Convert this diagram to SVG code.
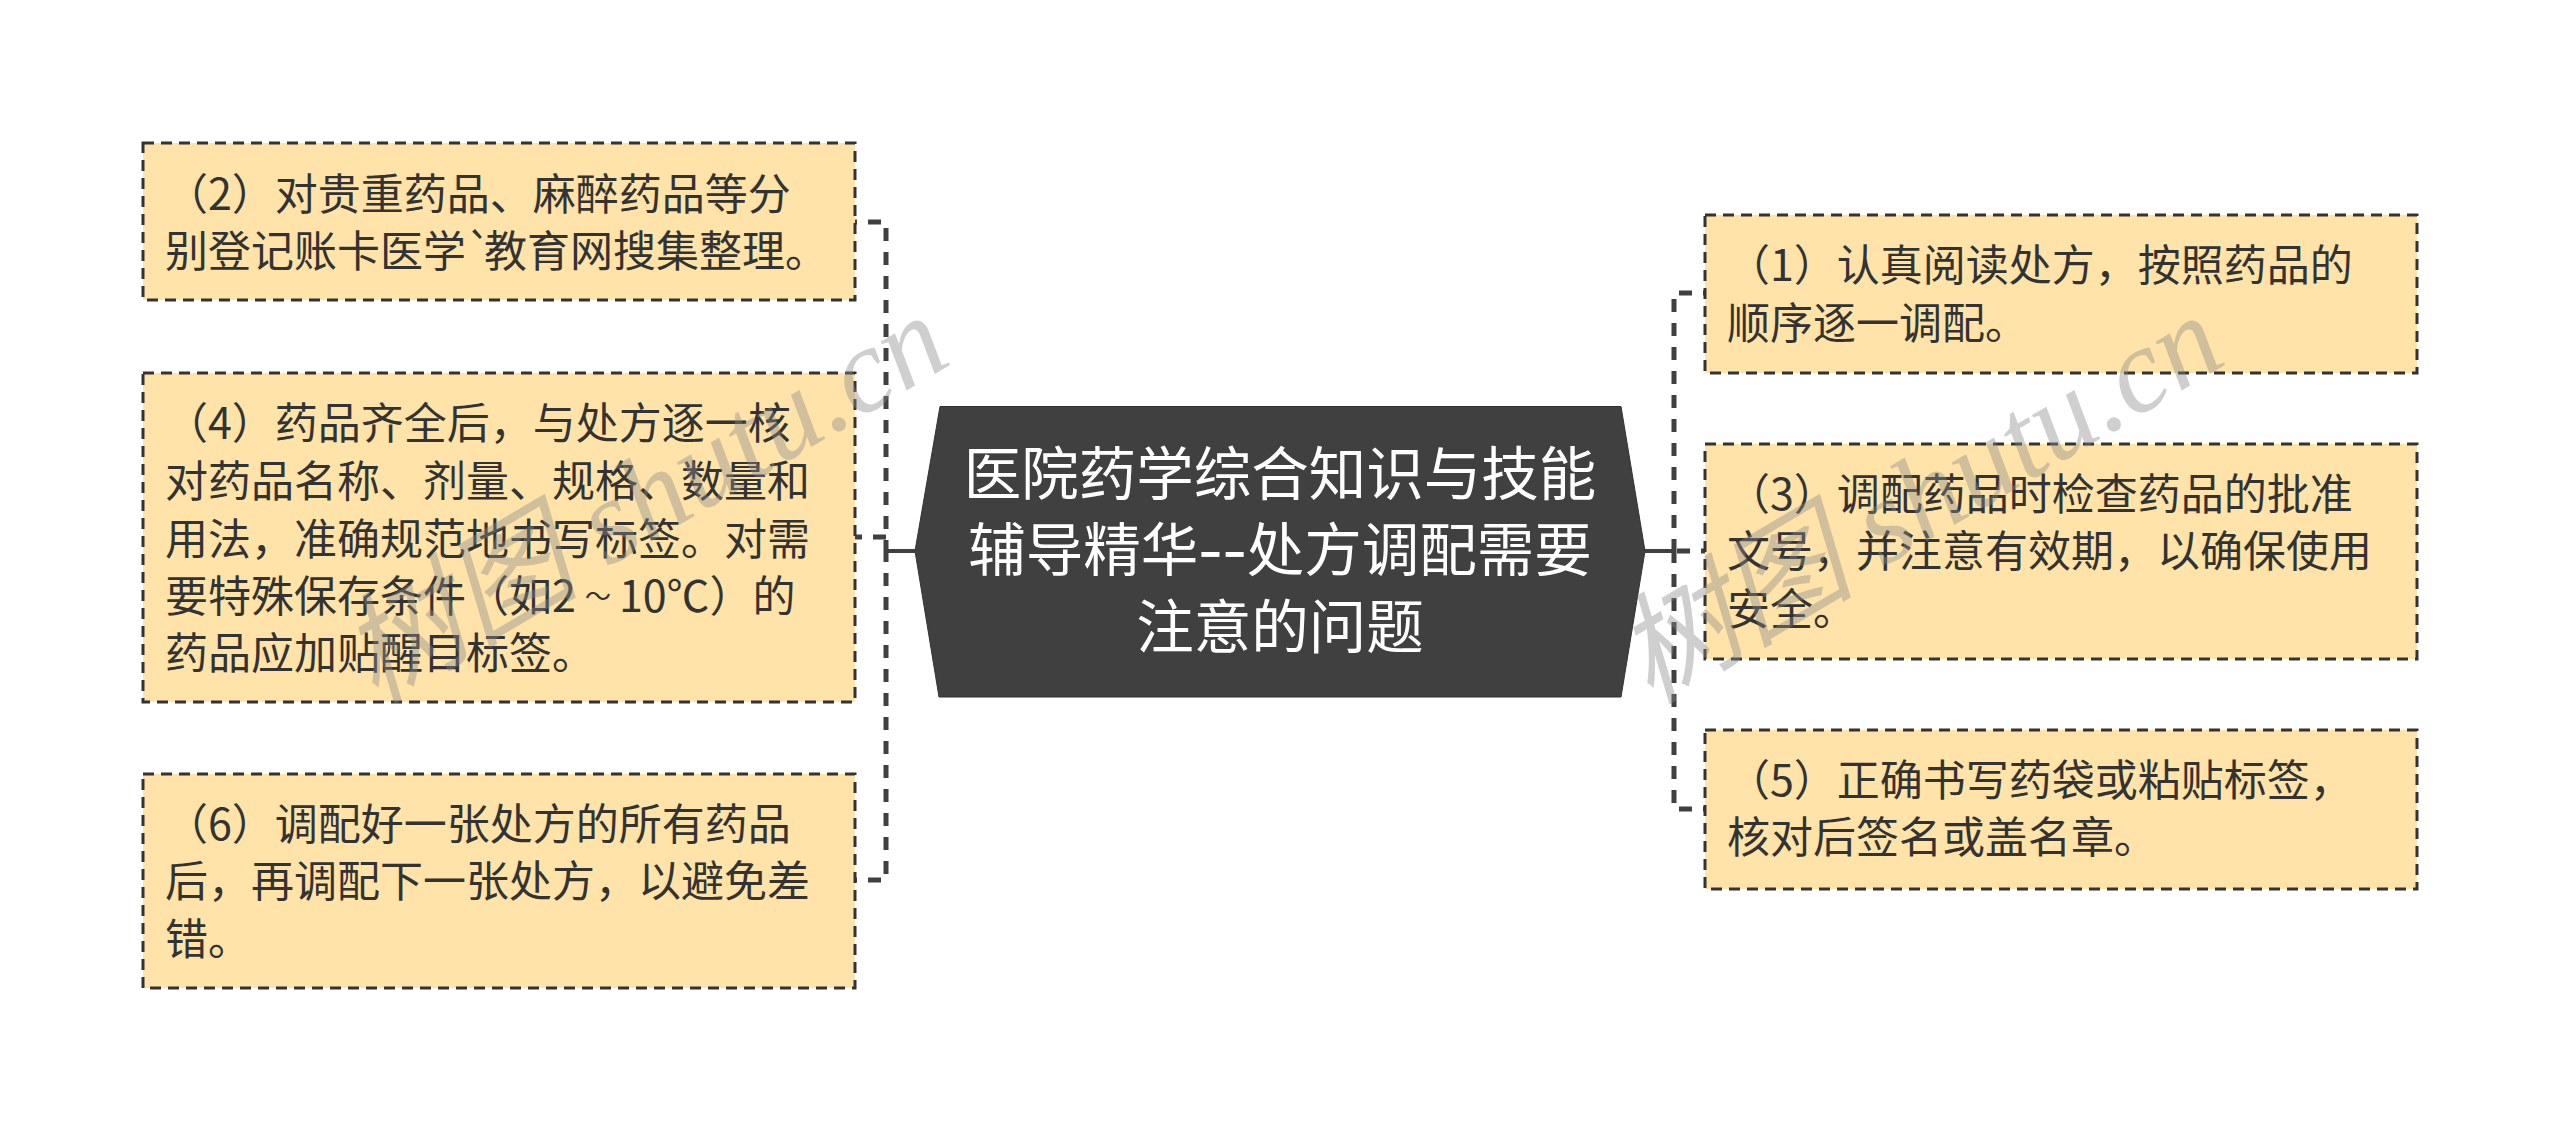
<svg xmlns="http://www.w3.org/2000/svg" width="2560" height="1132" viewBox="0 0 2560 1132">
<style>
.box{fill:#ffe3a9;stroke:#333;stroke-width:3;stroke-dasharray:11 7}
.t{font-family:"Microsoft YaHei","Noto Sans CJK SC","Noto Sans",sans-serif;font-size:43px;fill:#333}
.c{font-family:"Microsoft YaHei","Noto Sans CJK SC","Noto Sans",sans-serif;font-size:57.5px;fill:#fff;text-anchor:middle}
.con{fill:none;stroke:#404040;stroke-width:5;stroke-dasharray:13 11}
.sol{fill:none;stroke:#404040;stroke-width:4}
.wm{font-family:"Liberation Serif","Noto Sans CJK SC",serif;font-size:120px;font-style:italic;fill:#8a8a8a;opacity:.4}
</style>
<rect width="2560" height="1132" fill="#fff"/>
<g id="connectors">
<path class="sol" d="M915 551H886M1645 551H1674"/>
<path class="con" d="M844 222H886V551M849 537H886V551M844 880H886V551"/>
<path class="con" d="M1716 293H1674V551M1714 551H1674M1716 809H1674V551"/>
</g>
<g id="center"><polygon points="940,406.500 1621,406.500 1645,551 1621,697 939,697 915,551" fill="#404040" stroke="#333" stroke-width="1"/>
<text class="c" x="1280" y="495">医院药学综合知识与技能</text><text class="c" x="1280" y="571">辅导精华<tspan font-size="70" dy="3">--</tspan><tspan dy="-3">处方调配需要</tspan></text><text class="c" x="1280" y="648">注意的问题</text></g>
<g id="n2"><rect class="box" x="143" y="143" width="712" height="157"/>
<text class="t" x="165" y="210">（2）对贵重药品、麻醉药品等分</text><text class="t" x="165" y="267">别登记账卡医学<tspan letter-spacing="-8">`</tspan>教育网搜集整理。</text></g>
<g id="n4"><rect class="box" x="143" y="373" width="712" height="329"/>
<text class="t" x="165" y="439">（4）药品齐全后，与处方逐一核</text><text class="t" x="165" y="497">对药品名称、剂量、规格、数量和</text><text class="t" x="165" y="555">用法，准确规范地书写标签。对需</text><text class="t" x="165" y="612">要特殊保存条件（如2<tspan font-size="26" dx="9" dy="-6">～</tspan><tspan dx="8" dy="6">10℃）的</tspan></text><text class="t" x="165" y="669">药品应加贴醒目标签。</text></g>
<g id="n6"><rect class="box" x="143" y="774" width="712" height="214"/>
<text class="t" x="165" y="840">（6）调配好一张处方的所有药品</text><text class="t" x="165" y="897">后，再调配下一张处方，以避免差</text><text class="t" x="165" y="955">错。</text></g>
<g id="n1"><rect class="box" x="1705" y="215" width="712" height="158"/>
<text class="t" x="1727" y="281">（1）认真阅读处方，按照药品的</text><text class="t" x="1727" y="339">顺序逐一调配。</text></g>
<g id="n3"><rect class="box" x="1705" y="444" width="712" height="215"/>
<text class="t" x="1727" y="510">（3）调配药品时检查药品的批准</text><text class="t" x="1727" y="567">文号，并注意有效期，以确保使用</text><text class="t" x="1727" y="625">安全。</text></g>
<g id="n5"><rect class="box" x="1705" y="730" width="712" height="159"/>
<text class="t" x="1727" y="796">（5）正确书写药袋或粘贴标签，</text><text class="t" x="1727" y="853">核对后签名或盖名章。</text></g>
<g id="watermarks">
<text class="wm" transform="translate(375 705) rotate(-30.6)">树图 shutu.cn</text>
<text class="wm" transform="translate(1650 705) rotate(-30.6)">树图 shutu.cn</text>
</g>
</svg>
